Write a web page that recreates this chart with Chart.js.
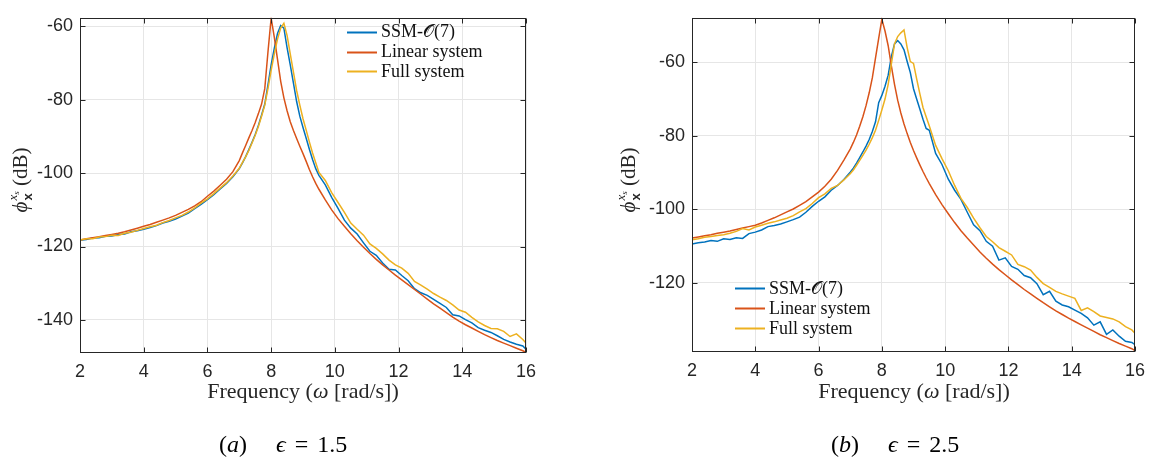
<!DOCTYPE html>
<html><head><meta charset="utf-8">
<script src="https://cdn.jsdelivr.net/npm/chart.js@4.4.1/dist/chart.umd.min.js"></script>
<style>
html,body{margin:0;padding:0;background:#fff;}
#wrap{position:relative;width:1153px;height:462px;overflow:hidden;background:#fff;}
canvas{position:absolute;top:0;}
.lbl{position:absolute;font-family:'Liberation Serif','Times New Roman','DejaVu Serif',serif;color:#262626;white-space:nowrap;line-height:1;}
.xt{font-size:22px;width:300px;text-align:center;}
.cap{font-size:24px;color:#000;}
.eq{margin:0 9px;}
.yt{font-size:21px;width:130px;height:26px;text-align:center;transform:rotate(-90deg);transform-origin:50% 50%;}
.ss{display:inline-block;vertical-align:middle;font-size:13px;line-height:12px;text-align:left;position:relative;top:-2px;margin-left:1px;}
.ss .sb{font-family:'Liberation Sans',Arial,sans-serif;font-weight:bold;display:block;}
.ss .sp{display:block;font-style:italic;}
.ss sub{font-size:9px;vertical-align:-2px;}
</style>
</head><body>
<div id="wrap">
  <canvas id="cA" width="560" height="462" style="left:0px"></canvas>
  <canvas id="cB" width="573" height="462" style="left:580px"></canvas>

  <div class="lbl yt" style="left:-43px;top:167px;"><i>ϕ</i><span class="ss"><span class="sp">x<sub>s</sub></span><span class="sb">x</span></span> (dB)</div>
  <div class="lbl yt" style="left:565px;top:167px;"><i>ϕ</i><span class="ss"><span class="sp">x<sub>s</sub></span><span class="sb">x</span></span> (dB)</div>

  <div class="lbl xt" style="left:153px;top:380px;">Frequency (<i>ω</i> [rad/s])</div>
  <div class="lbl xt" style="left:764px;top:380px;">Frequency (<i>ω</i> [rad/s])</div>

  <div class="lbl cap" style="left:219px;top:432px;">(<i>a</i>)</div>
  <div class="lbl cap" style="left:276px;top:432px;"><i>ϵ</i><span class="eq">=</span>1.5</div>
  <div class="lbl cap" style="left:831px;top:432px;">(<i>b</i>)</div>
  <div class="lbl cap" style="left:888px;top:432px;"><i>ϵ</i><span class="eq">=</span>2.5</div>
</div>
<script>
// ---------------- data ----------------
const FREQ = [
  2.0,2.2,2.4,2.6,2.8,3.0,3.2,3.4,3.6,3.8,4.0,4.2,4.4,4.6,4.8,5.0,5.2,5.4,5.6,5.8,6.0,6.2,6.4,6.6,6.8,7.0,
  7.1,7.2,7.3,7.4,7.5,7.6,7.7,7.8,7.9,8.0,8.1,8.2,8.3,8.4,8.5,8.6,8.7,8.8,8.9,9.0,9.1,9.2,9.3,9.4,9.5,
  9.7,9.9,10.1,10.3,10.5,10.7,10.9,11.1,11.3,11.5,11.7,11.9,12.1,12.3,12.5,12.7,12.9,13.1,13.3,13.5,
  13.7,13.9,14.1,14.3,14.5,14.7,14.9,15.1,15.3,15.5,15.7,15.9,16.0
];
const SERIES_NAMES = ['SSM-\u{1D4AA}(7)', 'Linear system', 'Full system'];

// (a) epsilon = 1.5
const SSM_A = [
  -118.3,-118.1,-117.7,-117.6,-117.2,-117.1,-116.7,-116.6,-116.0,-115.7,
  -115.3,-114.8,-114.3,-113.6,-113.1,-112.5,-111.7,-110.9,-109.7,-108.5,
  -107.2,-105.9,-104.3,-102.8,-101.0,-98.8,
  -97.2,-95.5,-93.6,-91.6,-89.5,-87.0,-84.2,-81.2,-76.0,-70.5,
  -66.0,-62.0,-59.8,-60.5,-65.8,-70.5,-75.5,-80.5,-84.5,-87.6,
  -90.5,-93.5,-96.3,-98.8,-100.6,
  -103.2,-106.6,-109.6,-112.8,-115.0,-116.6,-119.0,-121.3,-122.4,-124.5,
  -126.2,-126.4,-127.9,-129.3,-131.5,-132.6,-133.3,-134.4,-135.5,-136.6,
  -138.6,-138.9,-139.9,-140.8,-142.1,-142.8,-143.4,-144.3,-145.3,-146.0,
  -146.6,-147.1,-148.0
];
const LIN_A = [
  -118.2,-117.9,-117.6,-117.3,-117.0,-116.7,-116.4,-116.0,-115.5,-115.0,
  -114.5,-114.0,-113.4,-112.8,-112.2,-111.5,-110.7,-109.9,-108.9,-107.8,
  -106.3,-104.9,-103.3,-101.7,-99.6,-96.6,
  -94.5,-92.5,-90.4,-88.4,-86.2,-83.8,-81.2,-77.0,-67.0,-57.8,
  -63.0,-69.0,-75.0,-79.5,-83.0,-86.0,-88.4,-90.6,-92.7,-94.7,
  -96.8,-99.0,-101.0,-102.8,-104.4,
  -107.3,-110.0,-112.4,-114.5,-116.5,-118.4,-120.2,-121.9,-123.5,-125.0,
  -126.4,-127.8,-129.1,-130.4,-131.7,-133.0,-134.3,-135.6,-136.8,-138.0,
  -139.2,-140.3,-141.3,-142.2,-143.1,-144.0,-144.8,-145.6,-146.3,-147.0,
  -147.7,-148.4,-148.8
];
const FULL_A = [
  -118.2,-117.9,-117.9,-117.4,-117.3,-116.9,-117.0,-116.4,-116.1,-115.6,
  -115.1,-114.6,-114.2,-113.5,-112.9,-112.2,-111.5,-110.6,-109.5,-108.2,
  -107.0,-105.6,-104.1,-102.6,-100.8,-98.7,
  -97.1,-95.6,-93.8,-91.8,-89.7,-87.3,-84.5,-81.5,-77.0,-72.0,
  -67.5,-63.5,-60.5,-59.2,-62.5,-67.5,-72.5,-77.5,-81.5,-85.2,
  -88.3,-91.5,-94.5,-97.2,-99.8,
  -102.0,-105.3,-108.0,-110.7,-113.6,-115.3,-116.9,-119.3,-120.5,-122.0,
  -123.7,-125.0,-125.9,-127.3,-129.5,-130.5,-131.6,-132.8,-133.8,-134.7,
  -135.9,-137.3,-137.9,-139.3,-140.5,-141.5,-142.3,-142.4,-143.1,-144.5,
  -143.8,-145.3,-146.3
];

// (b) epsilon = 2.5
const SSM_B = [
  -109.4,-109.1,-108.9,-108.5,-108.7,-108.0,-108.2,-107.7,-107.9,-106.6,
  -106.2,-105.6,-104.7,-104.4,-104.0,-103.4,-102.8,-102.1,-100.8,-99.2,
  -97.8,-96.6,-94.8,-93.5,-91.9,-89.9,
  -88.8,-87.4,-85.9,-84.4,-82.8,-81.0,-78.8,-76.2,-71.0,-69.0,
  -66.5,-63.5,-58.5,-55.0,-54.1,-55.0,-56.6,-59.8,-62.8,-67.2,
  -70.0,-72.7,-75.5,-78.0,-78.5,
  -84.8,-87.8,-91.8,-94.8,-97.3,-100.8,-104.2,-105.8,-108.7,-110.0,
  -113.8,-113.2,-115.5,-116.3,-118.0,-118.6,-120.2,-123.2,-122.3,-125.0,
  -126.0,-126.5,-127.4,-128.3,-129.5,-131.5,-130.6,-134.0,-132.8,-134.5,
  -135.9,-136.2,-136.8
];
const LIN_B = [
  -107.8,-107.5,-107.2,-106.9,-106.5,-106.2,-105.9,-105.5,-105.1,-104.7,
  -104.3,-103.7,-103.0,-102.3,-101.5,-100.7,-99.9,-98.9,-97.9,-96.6,
  -95.3,-93.7,-91.8,-89.4,-86.6,-83.6,
  -81.8,-79.8,-77.4,-74.8,-71.8,-68.3,-64.2,-58.8,-53.5,-48.3,
  -51.5,-55.5,-61.0,-66.0,-70.3,-73.8,-76.8,-79.4,-81.8,-84.0,
  -86.0,-87.9,-89.7,-91.4,-93.0,
  -96.0,-98.7,-101.2,-103.6,-105.8,-107.8,-109.7,-111.6,-113.3,-114.9,
  -116.4,-117.8,-119.2,-120.5,-121.8,-123.0,-124.2,-125.4,-126.5,-127.6,
  -128.6,-129.6,-130.5,-131.4,-132.3,-133.2,-134.1,-134.9,-135.7,-136.5,
  -137.2,-137.9,-138.4
];
const FULL_B = [
  -108.3,-108.0,-107.6,-107.4,-107.1,-106.9,-106.5,-106.0,-105.2,-105.6,
  -104.8,-104.3,-103.8,-103.4,-102.9,-102.4,-101.7,-100.7,-99.8,-98.4,
  -96.8,-95.8,-94.3,-93.5,-92.0,-90.3,
  -89.3,-88.0,-86.7,-85.3,-83.9,-82.3,-80.5,-78.5,-75.8,-73.0,
  -70.0,-66.0,-60.5,-55.0,-53.0,-52.0,-51.2,-56.0,-59.8,-60.3,
  -64.5,-68.5,-72.3,-74.8,-77.3,
  -82.6,-86.2,-89.5,-93.5,-97.0,-99.5,-102.4,-105.0,-107.4,-108.8,
  -110.4,-111.4,-112.4,-115.0,-115.6,-116.5,-118.5,-120.2,-121.2,-122.3,
  -123.0,-123.6,-124.2,-127.5,-126.8,-127.8,-129.0,-129.4,-129.8,-130.6,
  -131.9,-132.8,-133.7
];

// ---------------- style ----------------
const BLUE = '#0072BD', ORANGE = '#D95319', YELLOW = '#EDB120';
const AXIS = '#262626';

function pts(vals){ return FREQ.map((f,i)=>({x:f, y:vals[i]})); }

const framePlugin = {
  id: 'frame',
  afterDraw(chart){
    const {ctx, chartArea:a, scales} = chart;
    ctx.save();
    ctx.strokeStyle = AXIS; ctx.lineWidth = 1;
    const L = Math.round(a.left)+0.5, R = Math.round(a.right)-0.5, T = Math.round(a.top)+0.5, B = Math.round(a.bottom)-0.5;
    ctx.strokeRect(L, T, R-L, B-T);
    const tl = 5;
    ctx.beginPath();
    scales.x.ticks.forEach(t=>{
      const px = Math.round(scales.x.getPixelForValue(t.value))+0.5;
      ctx.moveTo(px, B); ctx.lineTo(px, B-tl);
      ctx.moveTo(px, T); ctx.lineTo(px, T+tl);
    });
    scales.y.ticks.forEach(t=>{
      const py = Math.round(scales.y.getPixelForValue(t.value))+0.5;
      ctx.moveTo(L, py); ctx.lineTo(L+tl, py);
      ctx.moveTo(R, py); ctx.lineTo(R-tl, py);
    });
    ctx.stroke();
    ctx.restore();
  }
};

const legendPlugin = {
  id: 'mlegend',
  afterDraw(chart, args, o){
    const ctx = chart.ctx;
    ctx.save();
    ctx.font = "18px 'Liberation Serif','DejaVu Serif',serif";
    ctx.textBaseline = 'middle';
    ctx.fillStyle = '#111';
    chart.data.datasets.forEach((ds,i)=>{
      const y = o.y + i*o.dy;
      ctx.strokeStyle = ds.borderColor; ctx.lineWidth = 2;
      ctx.beginPath(); ctx.moveTo(o.x0, Math.round(y)+0.5); ctx.lineTo(o.x1, Math.round(y)+0.5); ctx.stroke();
      ctx.fillText(ds.label, o.tx, y+1);
    });
    ctx.restore();
  }
};

function makeChart(id, ssm, lin, full, yMin, yMax, yW, xH, pad, leg){
  return new Chart(document.getElementById(id), {
    type: 'line',
    data: { datasets: [
      {label: SERIES_NAMES[0], data: pts(ssm),  borderColor: BLUE,   order: 3},
      {label: SERIES_NAMES[1], data: pts(lin),  borderColor: ORANGE, order: 2},
      {label: SERIES_NAMES[2], data: pts(full), borderColor: YELLOW, order: 1}
    ]},
    options: {
      responsive: false, animation: false, devicePixelRatio: 1,
      layout: { padding: pad },
      elements: { point: { radius: 0 }, line: { borderWidth: 1.5, tension: 0, fill: false } },
      plugins: { legend: { display: false }, tooltip: { enabled: false }, mlegend: leg },
      scales: {
        x: { type: 'linear', min: 2, max: 16,
             ticks: { stepSize: 2, color: AXIS, padding: 8, maxRotation: 0,
                      font: { family: "'Liberation Sans', Arial, sans-serif", size: 18 } },
             grid: { color: '#e6e6e6', drawTicks: false }, border: { display: false },
             afterFit: s => { s.height = xH; } },
        y: { type: 'linear', min: yMin, max: yMax,
             ticks: { stepSize: 20, includeBounds: false, color: AXIS, padding: 7,
                      font: { family: "'Liberation Sans', Arial, sans-serif", size: 18 } },
             grid: { color: '#e6e6e6', drawTicks: false }, border: { display: false },
             afterFit: s => { s.width = yW; } }
      }
    },
    plugins: [framePlugin, legendPlugin]
  });
}

makeChart('cA', SSM_A, LIN_A, FULL_A, -149, -57.7, 80, 109,
  {left:0, right:34, top:9.5, bottom:0},
  {x0:347, x1:377, tx:381, y:31.7, dy:19.8});
makeChart('cB', SSM_B, LIN_B, FULL_B, -138.8, -47.9, 112, 110,
  {left:0, right:17, top:7, bottom:0},
  {x0:155, x1:185, tx:189, y:288.3, dy:20});
</script>
</body></html>
